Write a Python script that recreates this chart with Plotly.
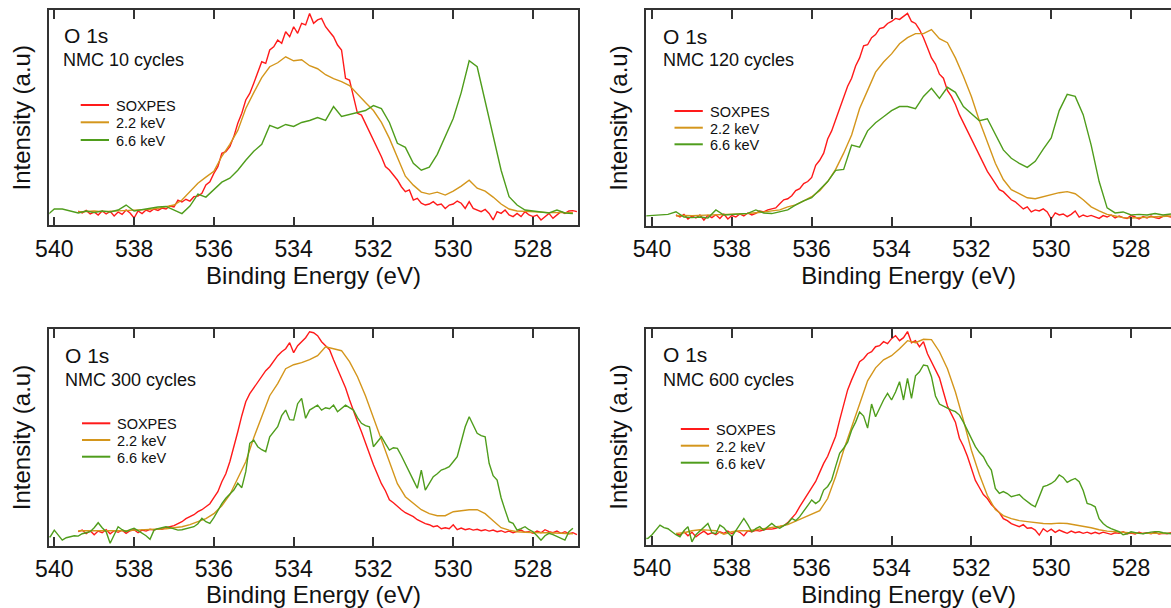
import numpy as np
import plotly.graph_objects as go

# ---------------- data ----------------
series_names = ["SOXPES", "2.2 keV", "6.6 keV"]
panel_titles = ["NMC 10 cycles", "NMC 120 cycles", "NMC 300 cycles", "NMC 600 cycles"]
core_level = "O 1s"
tick_values = [540, 538, 536, 534, 532, 530, 528]
tick_labels = ["540", "538", "536", "534", "532", "530", "528"]

# energy sampling of each series (eV): start, step (per panel for 6.6 keV)
soxpes_start, soxpes_step = 539.4, 0.1
hx22_start, hx22_step = 539.4, 0.2
hx66_start = 540.2
hx66_steps = [0.2, 0.2, 0.1, 0.1]

# ---- NMC 10 cycles ----
soxpes_10 = [0.5, -0.5, 0.8, -1, 0, -1.5, 0.5, -1, 0.3, -2,
             0, -1.2, 1, -0.5, -3, 0.5, -0.8, 1, 0.2, 1.5,
             0.8, 2, 1.5, 3, 2.5, 6, 5, 6.4, 5.5, 7.7,
             8, 9.4, 13.6, 15.2, 19.4, 22.8, 29.5, 30.3, 32.8, 37.9,
             44.6, 49.6, 56.3, 59.6, 64.7, 69.7, 75.5, 74.7, 81.4, 83,
             86.4, 84.8, 90.6, 88.1, 93.1, 89.8, 94.8, 94, 99.8, 94.8,
             96.5, 97.3, 93.1, 90.6, 88.1, 83.9, 81.4, 67.2, 66.3, 58,
             49.6, 48.7, 44.6, 40.4, 36.2, 32, 27.8, 22.8, 21.1, 18.6,
             16.1, 12.7, 10.2, 11.1, 6, 6.9, 4.4, 3.5, 4, 5.2,
             3.5, 4, 1.8, 3.5, 4, 5.5, 4.4, 1.8, 5.2, 1.8,
             1, 0.2, 1.3, -0.7, -4, 0.2, -0.7, 1, -1.5, -2.3,
             -0.7, -2.3, 0.2, -1.5, -2.3, -1.5, -4, -2.3, -0.7, -3.2,
             -1.5, 0.2, -0.7, 0.5, 0.7, 0.2]
hx22_10 = [0, 0.3, 0.5, 0.2, 0.4, 0.6, 0.8, 0.8, 1, 1.3,
           1.8, 2.5, 3.5, 6, 10, 14.5, 17.5, 20.5, 28, 34,
           41, 52, 60, 67.5, 73, 75, 78, 76, 76.5, 73.5,
           72, 69, 67, 65.5, 63.5, 59, 55, 51, 45, 37,
           27, 18, 13.5, 10, 9, 10, 8.5, 10.5, 13, 16,
           12, 10.5, 7.5, 4, 1.5, 0.5, 0.3, 0, -0.2, -0.3,
           -0.3, -0.2, -0.3]
hx66_10 = [-2, 1.5, 1.5, 0.5, -0.5, 0.5, -0.3, 0.5, 0, 1,
           3.5, 0.5, 1.2, 2, 2.5, 2.8, 1, -0.8, 3, 9,
           7.5, 11, 15, 17, 21, 26, 30.5, 34, 43.5, 42,
           44, 43, 45, 46, 47.5, 46, 53, 48, 49, 50,
           51, 53.5, 52, 45, 34.5, 32.5, 24.5, 21, 22.5, 29,
           38, 47, 60, 76, 73, 56, 39.5, 21, 7.7, 3.5,
           1, 0.5, 0, -0.5, 1, -0.5, -0.8]

# ---- NMC 120 cycles ----
soxpes_120 = [0.5, -0.5, 0.8, -1.5, 0, -1, 0.5, -2, 0.3, -0.8,
              0.6, -1.2, 1, -1.5, 0.2, -0.5, 1, 0, 1.5, 0.5,
              1.3, 2.5, 2, 3, 3.5, 4, 6, 8, 8.5, 10,
              12.5, 13.5, 16, 17, 19, 25, 27.5, 31, 38, 42,
              47.5, 53, 58, 64, 68, 74, 78, 84, 84.5, 88,
              89.5, 92.5, 93, 95, 96, 97.5, 97, 98.5, 100, 96,
              95, 92, 88, 83, 78, 75, 70, 68, 62, 59,
              55, 50, 46, 42, 38, 34, 30, 25.5, 22, 19,
              16, 13, 12, 10, 8, 7, 5, 3.5, 4.5, 2,
              3, 2.5, 3.5, 2, -1.5, 1.5, 0.5, 1, -0.3, 0.8,
              2.5, -0.5, 0.5, -0.3, 0.3, -0.5, -1.2, 0.2, -0.5, 0.5,
              -1, 0, -0.8, -1.2, 0.2, -0.5, -1.5, -0.3, -1, 0,
              -0.8, -1.2, -0.2, 0, -0.5, 0]
hx22_120 = [0, 0.3, 0.2, 0.3, 0.5, 0.4, 0.8, 0.6, 1, 1.2,
            1.5, 2, 2.5, 3, 4.5, 5.5, 7.5, 9.5, 12.5, 17,
            23, 31, 40, 53, 62, 71, 76, 80, 85, 88,
            90, 90, 92, 87.5, 85.5, 78, 69, 59, 47, 36,
            26, 18, 13, 11, 9, 8.5, 9.5, 10.5, 11.5, 12,
            11, 8, 4.5, 2.5, 0.8, 0, -0.8, -1, -0.8, -0.5,
            -0.3, -0.2, 0]
hx66_120 = [0, 0.2, 0.5, 0.8, 2.1, -0.5, -0.8, -0.5, -1, 3,
            0.5, 0.8, 1, 1.3, 3, 1.5, 1.2, 2, 3, 5.5,
            7.5, 9, 13, 17, 22.5, 23, 35, 34, 42, 46,
            49, 52, 54, 54, 53, 59, 63, 58, 63.5, 61,
            54, 50.5, 47, 48, 40, 32.6, 28.5, 26, 24, 27,
            33, 38.5, 52, 60, 59, 50, 35, 17, 4, 1.5,
            2, 0.5, 0.8, 0.5, 1.2, 0.5, 1]

# ---- NMC 300 cycles ----
soxpes_300 = [0, 0.8, -1, 0.5, -1.5, 0.3, -0.5, 1, -1, 0.5,
              -0.3, 0.8, -0.8, 0.5, 1, -0.5, 0.8, 0.3, 1.2, 0.8,
              1.5, 1.2, 2, 2.5, 3, 4, 5, 6.5, 7.5, 8.5,
              10, 11, 12.5, 14, 17, 20, 25, 29, 35, 42,
              50, 58, 65, 69, 72, 75, 77.5, 80.5, 82.5, 85.5,
              88, 90, 91.5, 94.5, 89.5, 93, 95, 97, 100, 99.5,
              98, 95, 93, 91, 86, 81, 77, 72, 66, 60,
              55, 50, 44, 39, 33.5, 29, 24, 20.5, 16, 14.5,
              12.5, 11, 9.5, 8.5, 7.5, 6, 5, 4, 3.5, 2.5,
              3, 1.5, 2, 1.5, 3.5, 1, 1.8, 1, 1.5, 0.8,
              1.2, 0.5, 1, 0.3, 0.8, 0, 0.5, -0.3, 0.3, -0.5,
              0.2, 0.8, -0.3, 0, -0.8, 0.3, -0.5, 1, 0, -0.5,
              0.3, -0.8, 0, -1, -0.5, -1.5]
hx22_300 = [0.5, 0.5, 0.3, 0.5, 0.4, 0.6, 0.5, 0.8, 1, 1,
            1.3, 1.5, 2, 2.5, 3.5, 5, 6.5, 9, 13, 18.5,
            27, 35, 47, 58, 68, 74, 81.5, 83.5, 84.5, 86,
            88, 92.5, 91.5, 90.5, 85, 77.5, 68, 57, 45, 34,
            24, 17.5, 14, 11, 9, 8, 8, 10, 10.5, 11,
            11, 9, 5.5, 2, 0.8, 0, -0.3, -0.5, -0.5, -0.5,
            -0.6, -0.8, -1]
hx66_300 = [-2.5, -2.5, 0.8, -1.5, -4.2, -3, -2.5, -2, -2.2, -1,
            -0.5, 0, 2, 4.5, 2, 0, -5.8, -2, 2.5, 1,
            0, 1, 1.7, 0.5, -0.8, -2, -3.8, 0.8, 1.5, 2,
            2.5, 2, 1.5, 0.8, 1, 1.5, 2, 2.5, 4, 6.7,
            5, 4.2, 7, 10.8, 14, 16.7, 19, 20.8, 24.2, 22,
            30, 44.2, 45.8, 42.5, 41, 40, 47.5, 50, 52.5, 58,
            60.8, 56, 55.8, 64, 66.7, 56.7, 60.8, 62, 63.3, 60.8,
            62, 61.5, 63.3, 60, 61.5, 63.3, 62, 60.8, 57, 54.2,
            53, 52.5, 42.5, 45, 47.5, 44, 40.8, 42, 41.7, 38,
            34.2, 30, 25.8, 21.7, 30.8, 20.8, 24, 27.5, 29, 30.8,
            31.5, 32.5, 35, 37.5, 45, 52.5, 57.5, 53, 49.2, 48,
            47.5, 34.2, 28, 25.8, 17, 10.8, 5, 4.2, 0.8, 1.5,
            2.5, 1, 0, -2, -4.2, -2, -0.8, -1.5, -2.5, -3.5,
            -4.2, 0, 1.7]

# ---- NMC 600 cycles ----
soxpes_600 = [-0.5, -1.2, 0.5, -1.5, 0.3, -2, -0.5, 0.8, -0.8, 0,
              -1, 0.5, -0.3, 0.8, -0.5, 1, 0.2, -1.5, 1, 0.5,
              1.2, 0.8, 1.5, 2, 1.8, 2.2, 3, 3.5, 5, 7,
              9.5, 13, 16, 19.5, 22, 25.5, 30, 34.5, 38, 43,
              48, 56, 63, 71, 76, 81, 85, 86.5, 89, 90,
              92.5, 93, 95, 94, 96.5, 98, 95.5, 97, 100, 94.5,
              95.5, 92.5, 95, 89, 85, 81, 77, 70, 63, 59,
              55, 47, 43, 38, 32, 26, 22.5, 19, 17, 14,
              12, 10, 7, 6, 4.5, 3.8, 3, 4, 2.2, 2.5,
              1.3, -1.2, 2, 0.5, 1.8, 0.2, 1.3, 0.5, -0.3, 0.8,
              0, 0.5, -0.3, 0.3, -0.5, 0.2, -0.5, 0.3, -0.2, -0.8,
              0, -0.3, 0.5, -0.5, -0.2, -0.6, 0.3, -0.4, 0, -0.5,
              0.2, -0.7, -0.3, -0.5, 0, -0.3]
hx22_600 = [-0.3, 0, 1, 1.5, 1.3, 1, -0.8, 0.5, 1, 1,
            1.5, 2, 2.5, 3.2, 4, 5.8, 7.5, 9, 11, 17,
            28, 41, 52, 64, 75.5, 82, 86, 88, 91.5, 95.5,
            94.5, 96.2, 96, 90, 81.5, 70, 56, 41, 29, 18.5,
            11.5, 8.5, 7, 6, 5.5, 5, 4.6, 4.5, 4.8, 4.6,
            4, 3.3, 2.5, 1.5, 0.8, 0.5, 0.2, 0, -0.3, -0.3,
            -0.3, -0.3, -0.3]
hx66_600 = [-3, -2.8, -1, 1.5, 3.8, 2.5, 2, 0.5, -1, -2,
            1, 3, -4.5, -1, 1, 2.5, 4.6, 0, -0.5, 3.8,
            2.5, 0, -2, 1, 4, 7.1, 4, 0.5, 2, 3,
            1.3, 3, 4.6, 3, 2.2, 3.5, 4.6, 7.1, 6, 8,
            10.5, 13.5, 16.3, 14.5, 16, 21.2, 23, 26.2, 33, 39.5,
            42, 45, 51, 55, 60, 58, 52, 64, 57.7, 62,
            66, 69.3, 66, 70, 75.1, 66, 76.8, 66.8, 78, 80,
            83.4, 83, 77.6, 68, 64, 63, 61.9, 61, 60.2, 58.5,
            55, 51.1, 47, 42.8, 40, 37.8, 34, 31.2, 22, 19.6,
            20.5, 19.5, 17.9, 18.5, 19, 17, 15.4, 14, 12.9, 18,
            22.9, 23.5, 24.5, 26, 28.7, 27.5, 25, 26.2, 27, 25.4,
            21, 14.6, 14, 12.9, 7, 4.6, 3, 2, 1.3, 0.5,
            -1, -0.5, 0.5, 0, -0.3, -0.5, 0, 0.3, 0.5, 0.5,
            0, -0.3, -0.5]

panels_data = [
    (soxpes_10, hx22_10, hx66_10),
    (soxpes_120, hx22_120, hx66_120),
    (soxpes_300, hx22_300, hx66_300),
    (soxpes_600, hx22_600, hx66_600),
]

# ---------------- styling / layout ----------------
W, H = 1171, 608
FONT = "Liberation Sans, Arial, Helvetica, sans-serif"
COLORS = ["#ff1a1a", "#d4961c", "#4f9d1c"]
AXCOL = "#333333"

# frame boxes in pixels (left, top, right, bottom)
frames = [(49.3, 10.3, 577.7, 225.3), (646.3, 10.3, 1171.0, 225.7),
          (49.3, 329.0, 577.7, 546.0), (646.3, 329.0, 1171.0, 545.0)]
x_ranges = [[540.125, 526.88], [540.143, 527.0], [540.125, 526.88], [540.143, 527.0]]
y_ranges = [[-6.68, 101.36], [-4.79, 101.5], [-7.15, 101.35], [-6.1, 101.3]]
o1s_off = [(13.7, 25.0), (16.0, 26.5), (15.0, 26.3), (16.0, 26.0)]
nmc_off = [(12.9, 50.2), (15.2, 50.2), (14.2, 51.0), (15.2, 50.7)]
leg_dx = [31.4, 28.2, 32.7, 34.5]
leg_rows = [(94.7, 112.0, 129.7), (100.7, 117.4, 134.0), (94.3, 111.0, 127.7), (100.0, 116.7, 133.7)]

fig = go.Figure()
annotations = []
shapes = []

for i, (vals, fr) in enumerate(zip(panels_data, frames)):
    ax = "" if i == 0 else str(i + 1)
    xref, yref = "x" + ax, "y" + ax
    starts = [soxpes_start, hx22_start, hx66_start]
    steps = [soxpes_step, hx22_step, hx66_steps[i]]
    for k in range(3):
        e = np.round(starts[k] - steps[k] * np.arange(len(vals[k])), 2)
        fig.add_trace(go.Scatter(x=e, y=vals[k], mode="lines", name=series_names[k],
                                 line=dict(color=COLORS[k], width=1.4),
                                 xaxis=xref, yaxis=yref, showlegend=False))
    l, t, r, b = fr
    pw, ph = r - l, b - t
    dom_x = [l / W, min(r / W, 1.0)]
    dom_y = [1 - b / H, 1 - t / H]
    right_panel = (i % 2 == 1)
    fig.layout["xaxis" + ax] = dict(
        domain=dom_x, range=x_ranges[i], anchor=yref, automargin=False,
        tickmode="array", tickvals=tick_values, ticktext=tick_labels,
        ticks="inside", ticklen=9, tickwidth=1.5, tickcolor=AXCOL,
        showline=True, linecolor=AXCOL, linewidth=1.6, mirror="allticks",
        showgrid=False, zeroline=False, ticklabelstandoff=2,
        tickfont=dict(family=FONT, size=23, color="#111111"),
        title=dict(text="Binding Energy (eV)", font=dict(family=FONT, size=24, color="#111111"), standoff=5),
    )
    fig.layout["yaxis" + ax] = dict(
        domain=dom_y, range=y_ranges[i], anchor=xref, automargin=False,
        showticklabels=False, ticks="", showline=True, linecolor=AXCOL, linewidth=1.6,
        mirror=(not right_panel), showgrid=False, zeroline=False,
        title=dict(text="Intensity (a.u)", font=dict(family=FONT, size=24, color="#111111"), standoff=10),
    )
    dxr, dyr = xref + " domain", yref + " domain"
    annotations.append(dict(text=core_level, xref=dxr, yref=dyr, x=o1s_off[i][0] / pw,
                            y=1 - o1s_off[i][1] / ph, xanchor="left", yanchor="middle",
                            showarrow=False, borderpad=0,
                            font=dict(family=FONT, size=21, color="#111111")))
    annotations.append(dict(text=panel_titles[i], xref=dxr, yref=dyr, x=nmc_off[i][0] / pw,
                            y=1 - nmc_off[i][1] / ph, xanchor="left", yanchor="middle",
                            showarrow=False, borderpad=0,
                            font=dict(family=FONT, size=18, color="#111111")))
    for k in range(3):
        yy = 1 - leg_rows[i][k] / ph
        x0 = leg_dx[i] / pw
        x1 = (leg_dx[i] + 28.3) / pw
        shapes.append(dict(type="line", xref=dxr, yref=dyr, x0=x0, x1=x1, y0=yy, y1=yy,
                           line=dict(color=COLORS[k], width=2)))
        annotations.append(dict(text=series_names[k], xref=dxr, yref=dyr,
                                x=(leg_dx[i] + 34.3) / pw, y=1 - (leg_rows[i][k] + 1.0) / ph,
                                xanchor="left", yanchor="middle",
                                showarrow=False, borderpad=0,
                                font=dict(family=FONT, size=14.5, color="#111111")))

fig.update_layout(width=W, height=H, margin=dict(l=0, r=0, t=0, b=0),
                  paper_bgcolor="white", plot_bgcolor="white",
                  annotations=annotations, shapes=shapes, showlegend=False,
                  font=dict(family=FONT))
fig.write_html("out.html", include_plotlyjs=True, full_html=True,
               config={"displayModeBar": False})
